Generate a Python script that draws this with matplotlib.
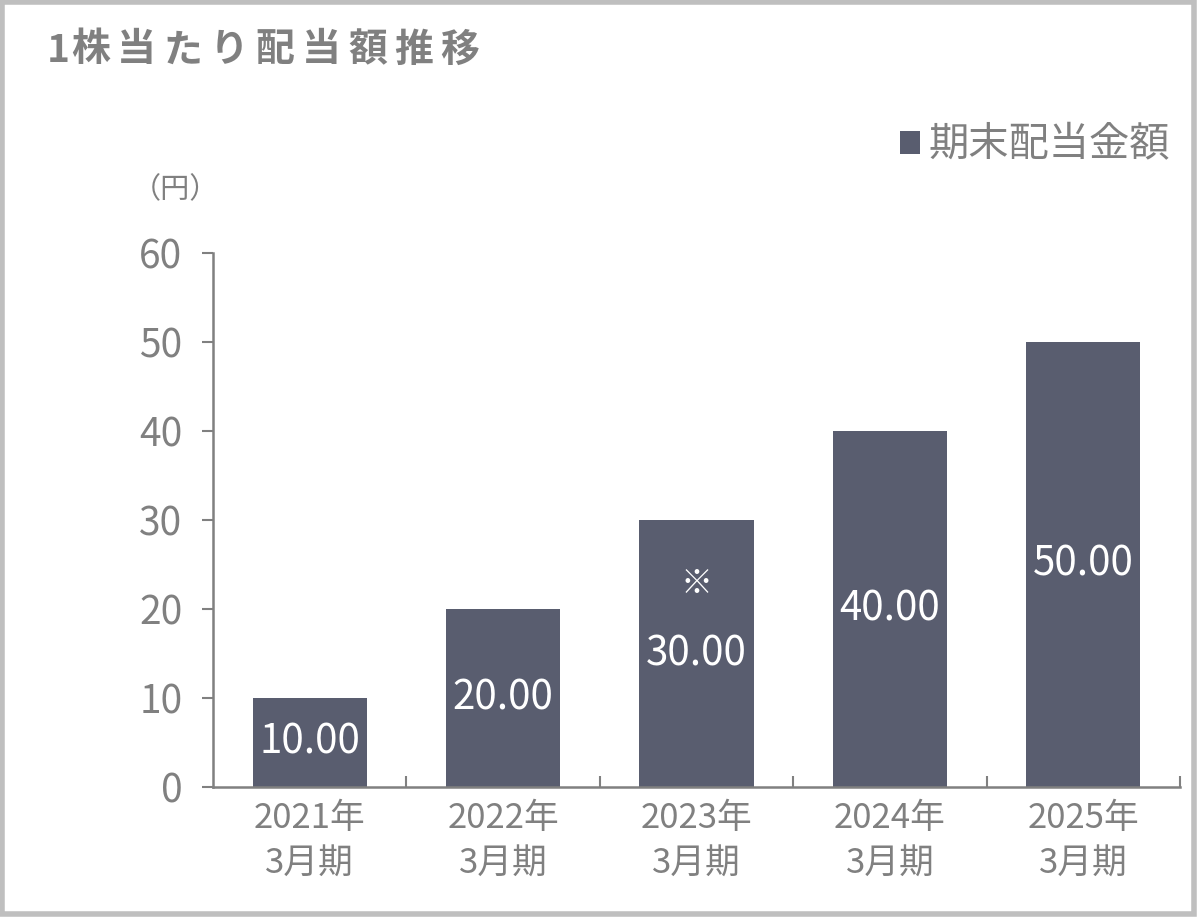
import matplotlib
matplotlib.use("Agg")
import matplotlib.pyplot as plt
from matplotlib import font_manager
from matplotlib.patches import Rectangle

# data
periods = ["2021年\n3月期", "2022年\n3月期", "2023年\n3月期", "2024年\n3月期", "2025年\n3月期"]
dividends = [10.00, 20.00, 30.00, 40.00, 50.00]
note_marks = ["", "", "※", "", ""]
y_ticks = [0, 10, 20, 30, 40, 50, 60]

title = "1株当たり配当額推移"
legend_label = "期末配当金額"
unit_label = "（円）"

BAR = "#595d6f"
GRAY = "#808080"
BORDER = "#bfbfbf"

installed = {f.name for f in font_manager.fontManager.ttflist}
narrow = [n for n in ["Liberation Sans Narrow", "DejaVu Sans Condensed"] if n in installed]
CJK = "Noto Sans CJK JP"
num_family = narrow + [CJK, "DejaVu Sans"]
plt.rcParams["font.family"] = [CJK, "DejaVu Sans"]

W, H = 1199, 919
fig = plt.figure(figsize=(W / 100, H / 100), dpi=100)
fig.patch.set_facecolor("white")


def fx(px):
    return px / W


def fy(py):
    return 1 - py / H


ax = fig.add_axes([fx(213), fy(787), fx(1180) - fx(213), fy(253) - fy(787)])

x = list(range(len(periods)))
bars = ax.bar(x, dividends, width=0.59, color=BAR, label=legend_label, zorder=2)

for rect, val, mark in zip(bars, dividends, note_marks):
    cx = rect.get_x() + rect.get_width() / 2
    cy = val / 2
    ax.text(cx, cy, f"{val:.2f}", ha="center", va="center", color="white",
            fontsize=29, family=num_family, zorder=3)
    if mark:
        ax.annotate(mark, (cx, cy), xytext=(0, 50), textcoords="offset points",
                    ha="center", va="center", color="white", fontsize=23, zorder=3)

ax.set_xlim(-0.5, len(periods) - 0.5)
ax.set_ylim(0, 60)
ax.set_yticks(y_ticks)
ax.set_yticklabels([str(t) for t in y_ticks], family=num_family, fontsize=28, color=GRAY)
ax.tick_params(axis="y", direction="out", length=8, width=1.5, color=GRAY, pad=14)

ax.set_xticks(x)
ax.set_xticklabels(periods, fontsize=25, color=GRAY, linespacing=1.4, family=num_family)
ax.set_xticks([i + 0.5 for i in x], minor=True)
ax.tick_params(axis="x", which="major", length=0, pad=10)
ax.tick_params(axis="x", which="minor", direction="in", length=8, width=1.5, color=GRAY)

for side in ["top", "right"]:
    ax.spines[side].set_visible(False)
for side in ["left", "bottom"]:
    ax.spines[side].set_color(GRAY)
    ax.spines[side].set_linewidth(1.8)

# title with wide letter spacing
fig.text(fx(47), fy(50), title[0], ha="left", va="center", fontsize=28,
         fontweight="bold", color=GRAY)
for i, ch in enumerate(title[1:]):
    fig.text(fx(71 + i * 46.2), fy(50), ch, ha="left", va="center", fontsize=28,
             fontweight="bold", color=GRAY)

fig.text(fx(175), fy(190), unit_label, ha="center", va="center", fontsize=21, color=GRAY)

leg = ax.legend(loc="center right", bbox_to_anchor=(fx(1170), fy(145)),
                bbox_transform=fig.transFigure, frameon=False, fontsize=29,
                handlelength=0.5, handleheight=0.5, handletextpad=0.2,
                borderpad=0, borderaxespad=0, labelcolor=GRAY)

fig.patches.append(Rectangle((fx(2), fy(914)), fx(1192), fy(2) - fy(914),
                             transform=fig.transFigure, fill=False,
                             edgecolor=BORDER, linewidth=4, zorder=10))

fig.savefig("out.png", dpi=100, facecolor="white")
